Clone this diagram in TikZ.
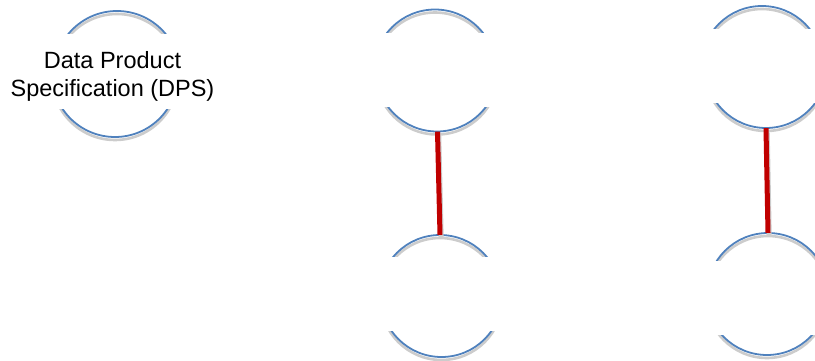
\documentclass[tikz,border=0pt]{standalone}
\usepackage{fontspec}
\setmainfont{Liberation Sans}
\definecolor{ringblue}{HTML}{4F81BD}
\definecolor{ringshadow}{HTML}{CCCCCC}
\definecolor{linkred}{HTML}{C00000}
\tikzset{
  ringnode/.style={circle, minimum size=#1, inner sep=0pt},
  ringline/.style={draw=ringblue, line width=1.8pt},
  ringshade/.style={draw=ringshadow, line width=2.6pt},
  linkline/.style={draw=linkred, line width=5pt},
  linkshade/.style={draw=ringshadow, line width=5pt},
  labeltext/.style={align=center, inner sep=0pt, font=\fontsize{23.5}{28}\selectfont}
}
% cx top arc, cx bottom arc, cy, r, top clip y, bottom clip y
\newcommand{\ringarcs}[6]{%
  \begin{scope}
    \clip (#1-#4-10,#3-#4-10) rectangle (#1+#4+10,#5);
    \draw[ringshade] (#1,#3+3) circle[radius=#4];
    \draw[ringline] (#1,#3) circle[radius=#4];
  \end{scope}
  \begin{scope}
    \clip (#2-#4-10,#6) rectangle (#2+#4+10,#3+#4+10);
    \draw[ringshade] (#2,#3+3) circle[radius=#4];
    \draw[ringline] (#2,#3) circle[radius=#4];
  \end{scope}}
\begin{document}
\begin{tikzpicture}[x=1pt,y=-1pt]
  \useasboundingbox (0,0) rectangle (815,361);
  % ring nodes
  \node[ringnode=126pt] (dps) at (116,74) {};
  \node[ringnode=122pt] (r2) at (437.5,70.5) {};
  \node[ringnode=122pt] (r3) at (440,296) {};
  \node[ringnode=122pt] (r4) at (766,67) {};
  \node[ringnode=122pt] (r5) at (768,294) {};
  % ring arcs
  \ringarcs{117}{115}{74}{63}{34}{110}
  \ringarcs{435}{437}{70.5}{61}{33}{108}
  \ringarcs{440}{441.5}{296}{61}{256}{331}
  \ringarcs{762}{766}{67}{61}{29}{104}
  \ringarcs{768}{767}{294}{61}{260}{335}
  % connectors
  \draw[linkshade] ([shift={(1.2pt,-2.5pt)}]r2.south) -- ([shift={(1.2pt,-2.5pt)}]r3.north);
  \draw[linkline] (r2.south) -- (r3.north);
  \draw[linkshade] ([shift={(1.2pt,-2.5pt)}]r4.south) -- ([shift={(1.2pt,-2.5pt)}]r5.north);
  \draw[linkline] (r4.south) -- (r5.north);
  % label
  \node[labeltext] (dpslabel) at (112.5,76.5) {Data Product\\Specification (DPS)};
\end{tikzpicture}
\end{document}
